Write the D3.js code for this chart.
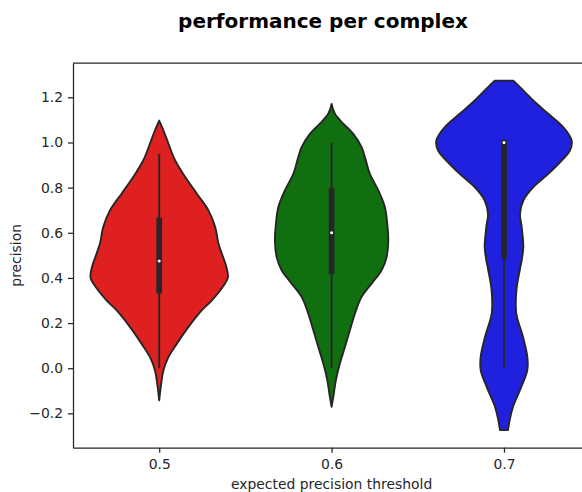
<!DOCTYPE html>
<html>
<head>
<meta charset="utf-8">
<script src="https://cdn.jsdelivr.net/npm/d3@7"></script>
<style>
  html, body { margin: 0; padding: 0; background: #fff; }
  svg { display: block; font-family: "DejaVu Sans", sans-serif; }
</style>
</head>
<body>
<svg id="chart" width="582" height="492"></svg>
<script>
// Categories (expected precision threshold) and fill colours
const categories = ["0.5", "0.6", "0.7"];
const colors = ["#df2020", "#107010", "#2020df"];

// Kernel density outlines: [precision, relative density]
const densityRed = [
  [1.097, 0], [1.053, 0.062], [0.994, 0.135], [0.920, 0.232], [0.847, 0.377],
  [0.773, 0.546], [0.699, 0.714], [0.625, 0.812], [0.552, 0.859], [0.507, 0.909],
  [0.448, 0.975], [0.400, 0.995], [0.360, 0.920], [0.301, 0.764], [0.257, 0.619],
  [0.183, 0.425], [0.109, 0.257], [0.050, 0.135], [-0.009, 0.062], [-0.068, 0.029],
  [-0.142, 0]
];
const densityGreen = [
  [1.171, 0], [1.127, 0.048], [1.083, 0.170], [1.038, 0.314], [0.979, 0.435],
  [0.935, 0.483], [0.861, 0.555], [0.788, 0.677], [0.714, 0.772], [0.640, 0.807],
  [0.566, 0.822], [0.492, 0.797], [0.434, 0.725], [0.375, 0.580], [0.316, 0.435],
  [0.242, 0.338], [0.168, 0.265], [0.094, 0.193], [0.021, 0.120], [-0.053, 0.062],
  [-0.127, 0.025], [-0.171, 0]
];
const densityBlue = [
  [1.274, 0.135], [1.245, 0.232], [1.186, 0.425], [1.127, 0.642], [1.068, 0.859],
  [1.009, 0.981], [0.965, 0.957], [0.920, 0.836], [0.861, 0.642], [0.802, 0.425],
  [0.743, 0.280], [0.685, 0.232], [0.625, 0.257], [0.537, 0.280], [0.485, 0.260],
  [0.434, 0.228], [0.346, 0.180], [0.243, 0.178], [0.139, 0.275], [0.051, 0.338],
  [-0.008, 0.338], [-0.083, 0.251], [-0.171, 0.130], [-0.230, 0.082], [-0.274, 0.058]
];
const densities = [densityRed, densityGreen, densityBlue];

// Box statistics: [whisker low, q1, median, q3, whisker high]
const boxRed = [0, 0.343, 0.475, 0.654, 0.950];
const boxGreen = [0, 0.429, 0.600, 0.787, 1.000];
const boxBlue = [0, 0.498, 1.000, 1.000, 1.000];
const boxes = [boxRed, boxGreen, boxBlue];

// Axis ticks
const yTicks = [-0.2, 0.0, 0.2, 0.4, 0.6, 0.8, 1.0, 1.2];

const svg = d3.select("#chart");
const ink = "#262626";
const plot = { left: 73, right: 590.2, top: 63, bottom: 447.7 };

const x = d3.scalePoint().domain(categories)
  .range([plot.left, plot.right]).padding(0.5);
const y = d3.scaleLinear().domain([-0.352, 1.352])
  .range([plot.bottom, plot.top]);
const w = d3.scaleLinear().domain([0, 1]).range([0, 0.4 * x.step()]);

const g = svg.append("g");

// Violins
categories.forEach((cat, i) => {
  const cx = x(cat);
  const area = d3.area()
    .y(d => y(d[0]))
    .x0(d => cx - w(d[1]))
    .x1(d => cx + w(d[1]))
    .curve(d3.curveCatmullRom.alpha(0.5));
  g.append("path")
    .datum(densities[i])
    .attr("d", area)
    .attr("fill", colors[i])
    .attr("stroke", ink)
    .attr("stroke-width", 1.9)
    .attr("stroke-linejoin", "round");

  const [lo, q1, med, q3, hi] = boxes[i];
  g.append("line")
    .attr("x1", cx).attr("x2", cx)
    .attr("y1", y(lo)).attr("y2", y(hi))
    .attr("stroke", ink).attr("stroke-width", 1.9);
  g.append("line")
    .attr("x1", cx).attr("x2", cx)
    .attr("y1", y(q1)).attr("y2", y(q3))
    .attr("stroke", ink).attr("stroke-width", 5.7)
    .attr("stroke-linecap", "square");
  g.append("circle")
    .attr("cx", cx).attr("cy", y(med)).attr("r", 1.5)
    .attr("fill", "#fff");
});

// Axes
const yAxis = svg.append("g")
  .attr("transform", `translate(${plot.left},0)`)
  .call(d3.axisLeft(y).tickValues(yTicks).tickFormat(d3.format(".1f"))
    .tickSize(5).tickSizeOuter(0).tickPadding(5));
const xAxis = svg.append("g")
  .attr("transform", `translate(0,${plot.bottom})`)
  .call(d3.axisBottom(x).tickSize(5).tickSizeOuter(0).tickPadding(6));

[yAxis, xAxis].forEach(a => {
  a.selectAll("path.domain").attr("stroke", ink).attr("stroke-width", 1.25);
  a.selectAll(".tick line").attr("stroke", ink).attr("stroke-width", 1.25);
  a.selectAll(".tick text").attr("fill", ink)
    .style("font-size", "13.9px").style("font-family", "DejaVu Sans");
});

// Top and right spines
svg.append("line")
  .attr("x1", plot.left).attr("x2", plot.right)
  .attr("y1", plot.top).attr("y2", plot.top)
  .attr("stroke", ink).attr("stroke-width", 1.25);
svg.append("line")
  .attr("x1", plot.right).attr("x2", plot.right)
  .attr("y1", plot.top).attr("y2", plot.bottom)
  .attr("stroke", ink).attr("stroke-width", 1.25);

// Labels and title
svg.append("text")
  .attr("x", (plot.left + plot.right) / 2).attr("y", 489)
  .attr("text-anchor", "middle").attr("fill", ink)
  .style("font-size", "13.9px")
  .text("expected precision threshold");

svg.append("text")
  .attr("transform", `translate(20.5,${(plot.top + plot.bottom) / 2}) rotate(-90)`)
  .attr("text-anchor", "middle").attr("fill", ink)
  .style("font-size", "13.9px")
  .text("precision");

svg.append("text")
  .attr("x", 323).attr("y", 27.5)
  .attr("text-anchor", "middle").attr("fill", "#000")
  .style("font-size", "20px").style("font-weight", "bold")
  .text("performance per complex");
</script>
</body>
</html>
